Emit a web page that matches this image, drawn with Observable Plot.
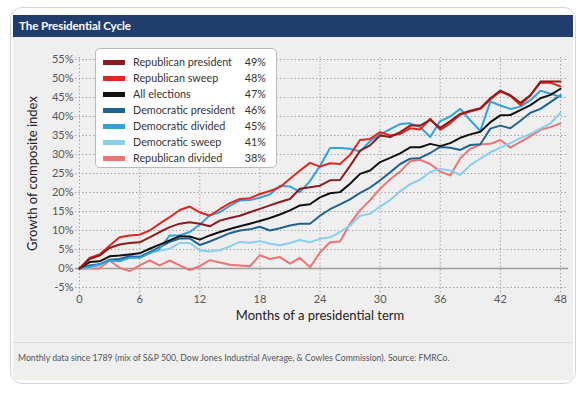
<!DOCTYPE html>
<html>
<head>
<meta charset="utf-8">
<script src="https://cdn.jsdelivr.net/npm/d3@7"></script>
<script src="https://cdn.jsdelivr.net/npm/@observablehq/plot@0.6"></script>
<style>
  html, body { margin: 0; padding: 0; background: #fff; }
  body { width: 587px; height: 398px; position: relative; overflow: hidden; font-family: Lato, "Open Sans", sans-serif; }
  #card { position: absolute; left: 10px; top: 7px; width: 566px; height: 377px; border: 1px solid #cdd6e0; border-radius: 12px; box-sizing: border-box; }
  #header { position: absolute; left: 13px; top: 15px; width: 560px; height: 22px; background: #213d6e; color: #fff; font-weight: 700; font-size: 11.6px; line-height: 22px; box-sizing: border-box; padding-left: 6px; letter-spacing: -0.1px; }
  #chart { position: absolute; left: 13px; top: 37px; width: 560px; height: 305px; }
  #footer { position: absolute; left: 13px; top: 342px; width: 560px; height: 38px; background: #efefef; border-top: 1px solid #d9d9d9; box-sizing: border-box; color: #555; font-size: 8.7px; padding: 9px 0 0 5px; }
  #legend { position: absolute; left: 95px; top: 48px; width: 182px; height: 120px; background: #fff; border: 1px solid #b9b9b9; border-radius: 5px; box-sizing: border-box; }
  .row { position: absolute; left: 0; height: 16px; width: 100%; font-size: 10.8px; color: #333; line-height: 16px; }
  .sw { position: absolute; left: 7px; top: 6px; width: 22px; height: 5px; }
  .nm { position: absolute; left: 37px; top: 0; white-space: nowrap; }
  .pc { position: absolute; right: 10px; top: 0; }
  #chart svg [aria-label="x-axis label"], #chart svg [aria-label="y-axis label"] { font-size: 13px; fill: #222; }
</style>
</head>
<body>
<div id="card"></div>
<div id="header">The Presidential Cycle</div>
<div id="chart"></div>
<div id="footer">Monthly data since 1789 (mix of S&amp;P 500, Dow Jones Industrial Average, &amp; Cowles Commission). Source: FMRCo.</div>
<div id="legend"></div>
<script>
// ---- data ----
const seriesNames = ["Republican president", "Republican sweep", "All elections", "Democratic president", "Democratic divided", "Democratic sweep", "Republican divided"];
const seriesColors = ["#8e1b1b", "#e2261f", "#111111", "#1f6491", "#31a3dc", "#88cfee", "#ee7373"];
const legendValues = ["49%", "48%", "47%", "46%", "45%", "41%", "38%"];
const xTicks = [0, 6, 12, 18, 24, 30, 36, 42, 48];
const yTicks = [-5, 0, 5, 10, 15, 20, 25, 30, 35, 40, 45, 50, 55];

const repPresident = [0, 2.5, 3.4, 5.4, 6.3, 6.7, 6.9, 8.2, 9.6, 10.9, 11.8, 12.2, 11.8, 11.1, 12.6, 13.3, 13.9, 14.8, 15.7, 16.6, 17.5, 18.3, 21.0, 21.4, 21.8, 23.2, 23.3, 27.0, 31.0, 32.4, 35.0, 34.6, 35.9, 37.6, 37.6, 39.1, 37.0, 38.8, 40.7, 41.5, 42.2, 44.8, 46.8, 45.6, 43.6, 45.6, 49.2, 49.2, 49.2];
const repSweep = [0, 2.8, 3.7, 6.0, 8.2, 8.7, 8.9, 10.0, 11.8, 13.5, 15.4, 16.3, 14.8, 13.9, 15.6, 17.2, 18.3, 18.5, 19.6, 20.4, 21.4, 23.6, 25.8, 27.8, 26.8, 27.7, 27.5, 29.9, 33.8, 34.1, 35.9, 35.0, 35.4, 36.9, 36.6, 39.4, 36.5, 38.2, 40.5, 41.3, 42.0, 44.5, 46.6, 45.4, 43.0, 45.6, 48.9, 48.9, 47.9];
const allElections = [0, 1.7, 1.9, 3.2, 3.4, 3.7, 4.0, 5.2, 6.3, 7.4, 8.5, 8.4, 7.6, 8.7, 9.6, 10.4, 11.1, 11.8, 12.5, 13.3, 14.2, 15.3, 16.6, 16.9, 18.7, 19.8, 20.1, 22.3, 24.9, 25.8, 28.0, 29.1, 30.3, 31.9, 31.9, 32.8, 32.2, 33.0, 34.4, 35.3, 36.0, 38.5, 40.3, 40.4, 41.7, 43.0, 44.8, 45.7, 47.3];
const demPresident = [0, 0.8, 1.1, 2.3, 2.5, 3.2, 3.0, 4.3, 5.6, 7.0, 7.9, 7.9, 6.2, 7.1, 8.2, 9.3, 10.0, 10.3, 11.0, 10.0, 10.6, 11.3, 11.8, 11.8, 13.9, 15.6, 16.9, 18.2, 19.9, 21.3, 23.2, 25.3, 27.5, 28.9, 29.1, 30.4, 32.0, 31.8, 31.2, 32.5, 32.7, 36.8, 37.6, 36.9, 38.9, 41.0, 42.0, 43.8, 45.6];
const demDivided = [0, 0.4, 1.1, 2.1, 1.9, 2.8, 2.8, 4.0, 5.2, 8.7, 8.7, 9.6, 11.5, 14.0, 14.8, 16.5, 17.9, 18.0, 18.6, 19.5, 21.8, 21.6, 20.1, 23.0, 27.0, 31.7, 31.7, 31.5, 30.8, 33.5, 35.2, 36.7, 38.0, 38.2, 37.2, 34.6, 38.8, 40.0, 42.0, 39.0, 36.2, 43.9, 42.9, 42.0, 42.6, 44.3, 46.8, 46.0, 45.2];
const demSweep = [0, 0.2, 0.8, 2.3, 2.3, 2.8, 3.2, 4.3, 4.7, 5.2, 6.7, 6.7, 4.8, 4.5, 4.8, 5.8, 7.0, 6.8, 7.2, 6.5, 6.1, 6.7, 7.5, 6.9, 7.8, 8.2, 9.6, 11.3, 13.9, 14.4, 16.3, 18.0, 20.3, 22.2, 23.4, 25.4, 26.2, 25.8, 24.6, 27.2, 28.9, 30.6, 31.8, 33.0, 34.3, 35.4, 36.8, 38.2, 41.0];
const repDivided = [0, 0, 0, 2.1, 0.2, -0.7, 0.8, 2.1, 0.8, 2.1, 0.8, -0.4, 0.6, 2.2, 1.6, 1.0, 0.8, 0.6, 3.5, 2.5, 3.0, 1.3, 2.8, 0.3, 4.2, 6.9, 7.1, 11.8, 15.3, 18.0, 21.0, 23.5, 25.5, 28.2, 28.6, 27.5, 25.5, 24.5, 29.0, 31.5, 32.6, 32.8, 33.8, 31.8, 33.3, 34.8, 36.5, 37.2, 38.2];

const seriesValues = [repPresident, repSweep, allElections, demPresident, demDivided, demSweep, repDivided];

// ---- table built from the arrays ----
const rows = [];
seriesNames.forEach((name, k) => {
  seriesValues[k].forEach((v, i) => rows.push({series: name, month: i, value: v}));
});
// draw order: lightest/back first, reds on top
const drawOrder = ["Republican divided", "Democratic sweep", "Democratic president", "Democratic divided", "All elections", "Republican sweep", "Republican president"];

const chart = Plot.plot({
  width: 560,
  height: 305,
  marginLeft: 66,
  marginRight: 13,
  marginTop: 22,
  marginBottom: 55,
  style: {background: "#efefef", fontFamily: "Lato, 'Open Sans', sans-serif", fontSize: "11px", color: "#555", overflow: "visible"},
  x: {domain: [0, 48], ticks: xTicks, tickSize: 0, tickPadding: 8, label: "Months of a presidential term", labelAnchor: "center", labelOffset: 32, labelArrow: "none"},
  y: {domain: [-5, 55], ticks: yTicks, tickSize: 0, tickPadding: 6, tickFormat: d => d + "%", label: "Growth of composite index", labelAnchor: "center", labelOffset: 52, labelArrow: "none"},
  color: {domain: seriesNames, range: seriesColors},
  marks: [
    Plot.gridY(yTicks, {stroke: "#9a9a9a", strokeOpacity: 1, strokeDasharray: "1.2,2.4", strokeWidth: 1, insetLeft: -4, insetRight: -6}),
    Plot.gridX(xTicks, {stroke: "#9a9a9a", strokeOpacity: 1, strokeDasharray: "1.2,2.4", strokeWidth: 1, insetBottom: -8, insetTop: -2}),
    Plot.ruleY([0], {stroke: "#9d9d9d", strokeWidth: 1.6, insetLeft: -4, insetRight: -8}),
    ...drawOrder.map(name => Plot.line(rows.filter(r => r.series === name), {x: "month", y: "value", stroke: "series", strokeWidth: 2})),
  ]
});
document.getElementById("chart").appendChild(chart);

// ---- legend (HTML) ----
const legend = document.getElementById("legend");
seriesNames.forEach((name, k) => {
  const row = document.createElement("div");
  row.className = "row";
  row.style.top = (5 + k * 16) + "px";
  row.innerHTML = `<div class="sw" style="background:${seriesColors[k]}"></div><div class="nm">${name}</div><div class="pc">${legendValues[k]}</div>`;
  legend.appendChild(row);
});
</script>
</body>
</html>
